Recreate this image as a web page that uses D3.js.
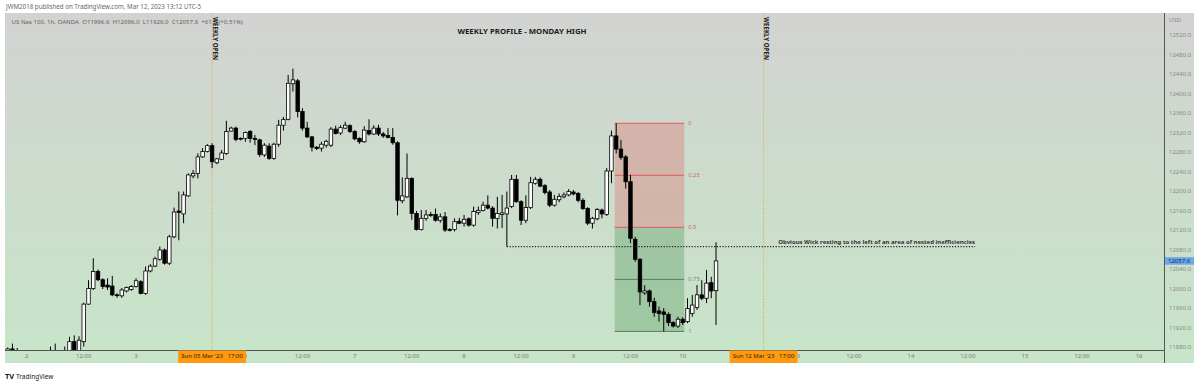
<!DOCTYPE html>
<html><head><meta charset="utf-8">
<script src="https://cdn.jsdelivr.net/npm/d3@7"></script>
<style>
body{margin:0;background:#fff;}
svg{display:block;}
text{font-family:"Noto Sans","DejaVu Sans",sans-serif;}
</style>
</head><body>
<svg id="c" width="1200" height="384"></svg>
<script>
// ---------- DATA ----------
const firstBar = -4; // bar index of the first candle (index 0 = Thu 2 Mar 00:00)
const opens  = [11872,11877,11866,11862,11856,11860,11852,11858,11863,11866,11862,11868,11865,
  11874,11892,11874,11892,11969,12001,12036,12019,12008,12006,11988,11986,11996,11999,12005,12015,
  11991,12037,12047,12061,12080,12053,12107,12160,12154,12191,12232,12237,12271,12282,12294,12259,
  12266,12278,12324,12330,12309,12309,12323,12309,12306,12275,12293,12268,12297,12336,12348,12421,
  12427,12364,12330,12312,12291,12289,12295,12295,12328,12320,12330,12335,12323,12309,12302,12325,
  12318,12330,12318,12315,12311,12300,12181,12189,12227,12155,12122,12145,12153,12153,12141,12148,
  12122,12122,12139,12135,12144,12131,12157,12161,12172,12166,12145,12153,12154,12169,12225,12179,
  12141,12167,12217,12225,12212,12199,12172,12183,12189,12193,12199,12196,12182,12165,12135,12144,
  12162,12153,12242,12314,12287,12271,12220,12102,12061,11992,11996,11974,11955,11953,11948,11931,
  11924,11938,11933,11950,11962,11988,11981,12013,11996.6];
const highs  = [11880,11888,11879,11870,11866,11868,11862,11869,11872,11882,11888,11874,11882,
  11902,11905,11903,11972,12018,12063,12040,12022,12022,12027,11991,12002,12005,12008,12022,12018,
  12046,12051,12066,12087,12083,12111,12167,12200,12200,12237,12244,12278,12289,12297,12299,12269,
  12285,12345,12333,12333,12311,12323,12326,12316,12308,12299,12299,12300,12347,12353,12439,12452,
  12431,12371,12343,12314,12293,12302,12306,12332,12335,12336,12343,12338,12326,12311,12334,12348,
  12336,12337,12322,12330,12330,12303,12229,12278,12229,12160,12162,12162,12158,12165,12155,12158,
  12125,12145,12146,12152,12147,12169,12169,12179,12192,12170,12189,12193,12200,12234,12234,12182,
  12192,12230,12230,12229,12215,12203,12193,12196,12198,12205,12203,12199,12186,12168,12148,12166,
  12165,12248,12325,12340,12306,12275,12234,12107,12063,12008,11999,11982,11964,11961,11952,11934,
  11943,11942,11981,11988,12008,12018,12039,12025,12096];
const lows   = [11860,11858,11855,11850,11845,11848,11842,11850,11855,11858,11855,11858,11860,
  11868,11866,11866,11882,11968,11998,12016,12000,11998,11985,11982,11982,11993,11996,12003,11989,
  11988,12034,12045,12058,12050,12049,12104,12100,12135,12189,12227,12227,12269,12280,12248,12256,
  12265,12275,12323,12303,12305,12302,12300,12295,12271,12271,12265,12265,12292,12325,12346,12405,
  12352,12325,12310,12282,12285,12282,12290,12291,12317,12316,12328,12320,12305,12298,12300,12315,
  12316,12314,12310,12309,12296,12151,12176,12187,12142,12120,12120,12140,12148,12138,12136,12117,
  12118,12118,12133,12128,12128,12128,12152,12159,12163,12128,12124,12125,12087,12166,12177,12131,
  12135,12164,12214,12209,12194,12168,12169,12178,12186,12190,12192,12178,12162,12131,12124,12141,
  12145,12150,12217,12278,12265,12206,12094,12056,11967,11988,11964,11943,11933,11913,11924,11921,
  11920,11926,11930,11943,11957,11977,11971,11981,11926];
const closes = [11877,11866,11872,11856,11860,11852,11858,11863,11866,11862,11868,11865,11874,
  11892,11874,11895,11969,12001,12036,12019,12005,12004,11988,11987,11998,12003,12005,12017,11991,
  12037,12047,12062,12080,12053,12107,12158,12157,12193,12234,12237,12271,12282,12294,12261,12267,
  12279,12323,12330,12307,12308,12321,12309,12307,12276,12295,12268,12297,12336,12348,12422,12429,
  12364,12330,12312,12291,12288,12297,12303,12328,12319,12331,12336,12323,12308,12302,12326,12318,
  12330,12318,12314,12311,12300,12182,12191,12227,12155,12122,12145,12152,12151,12141,12148,12121,
  12121,12138,12135,12143,12131,12159,12161,12172,12166,12145,12155,12156,12166,12225,12179,12141,
  12167,12218,12225,12211,12198,12172,12184,12190,12193,12200,12195,12182,12165,12135,12145,12163,
  12154,12242,12314,12287,12270,12220,12104,12061,11994,11996,11974,11952,11950,11948,11931,11924,
  11938,11931,11960,11967,11988,11981,12012,11996,12057.6];

const priceTicks = [11880,11920,11960,12000,12040,12080,12120,12160,12200,12240,12280,12320,12360,12400,12440,12480,12520];
const timeTickLabels = ["2","12:00","3","6","12:00","7","12:00","8","12:00","9","12:00","10","13","12:00","14","12:00","15","12:00","16"];
const timeTickBars   = [0,12,23,46,58,69,81,92,104,115,127,138,162,174,186,198,210,222,234];

const weeklyOpenBars   = [39, 155];
const weeklyOpenLabels = ["Sun 05 Mar '23   17:00", "Sun 12 Mar '23   17:00"];

const fibLevels = [0, 0.25, 0.5, 0.75, 1];
const fibHigh = 12340, fibLow = 11913, fibStartBar = 124, fibEndBar = 138;

const wickBar = 101, wickLineEndBar = 199.5;
const lastPrice = 12057.6;

// ---------- LAYOUT ----------
const svg = d3.select("#c");
const L = 5, R = 1164, T = 13, B = 350, AX = 1194, BB = 363;
const x = d3.scaleLinear().domain([0, 234]).range([26.7, 26.7 + 234 * 4.754]);
const y = d3.scaleLinear().domain([11880, 12520]).range([347.5, 35.5]);

const defs = svg.append("defs");
const grad = defs.append("linearGradient").attr("id", "bg").attr("x1", 0).attr("y1", 0).attr("x2", 0).attr("y2", 1);
grad.append("stop").attr("offset", "0%").attr("stop-color", "#d2d3d1");
grad.append("stop").attr("offset", "100%").attr("stop-color", "#c7e5c8");
defs.append("clipPath").attr("id", "plot").append("rect").attr("x", L).attr("y", T).attr("width", R - L).attr("height", B - T);

svg.append("rect").attr("x", L).attr("y", T).attr("width", AX - L).attr("height", BB - T).attr("fill", "url(#bg)");

// header texts
svg.append("text").attr("x", 6).attr("y", 7.5).attr("dominant-baseline", "middle")
  .attr("font-size", 6.2).attr("fill", "#666").text("JWM2018 published on TradingView.com, Mar 12, 2023 13:12 UTC-5");
svg.append("text").attr("x", 11.5).attr("y", 22.5).attr("dominant-baseline", "middle")
  .attr("font-size", 6.1).attr("fill", "#5e5e5e").attr("xml:space", "preserve")
  .text("US Nas 100, 1h, OANDA  O11996.6  H12096.0  L11926.0  C12057.6  +61.0 (+0.51%)");
svg.append("text").attr("x", 522).attr("y", 31.8).attr("dominant-baseline", "middle").attr("text-anchor", "middle")
  .attr("font-size", 7.8).attr("font-weight", "bold").attr("fill", "#1c1c1c").text("WEEKLY PROFILE - MONDAY HIGH");

const plot = svg.append("g").attr("clip-path", "url(#plot)");

// fib zones
const fx0 = x(fibStartBar) - 1.5, fx1 = x(fibEndBar) + 1.5;
const fibPrice = l => fibHigh - l * (fibHigh - fibLow);
plot.append("rect").attr("x", fx0).attr("width", fx1 - fx0).attr("y", y(fibPrice(0))).attr("height", y(fibPrice(0.5)) - y(fibPrice(0)))
  .attr("fill", "#e06a66").attr("fill-opacity", 0.34);
plot.append("rect").attr("x", fx0).attr("width", fx1 - fx0).attr("y", y(fibPrice(0.5))).attr("height", y(fibPrice(1)) - y(fibPrice(0.5)))
  .attr("fill", "#3f8a48").attr("fill-opacity", 0.3);
const fibColor = l => l <= 0.5 ? "#e05a5a" : "#5f7a60";
plot.selectAll("line.fib").data(fibLevels).join("line").attr("class", "fib")
  .attr("x1", fx0).attr("x2", fx1).attr("y1", d => y(fibPrice(d))).attr("y2", d => y(fibPrice(d)))
  .attr("stroke", fibColor).attr("stroke-width", 1);
svg.selectAll("text.fib").data(fibLevels).join("text").attr("class", "fib")
  .attr("x", fx1 + 4).attr("y", d => y(fibPrice(d))).attr("dominant-baseline", "middle")
  .attr("font-size", 5.8).attr("fill", d => d <= 0.5 ? "#d9625e" : "#7d8c7d").text(d => String(d));

// weekly open lines
plot.selectAll("line.wo").data(weeklyOpenBars).join("line").attr("class", "wo")
  .attr("x1", d => x(d)).attr("x2", d => x(d)).attr("y1", T).attr("y2", B)
  .attr("stroke", "#e3a43a").attr("stroke-width", 1).attr("stroke-dasharray", "1,1.6");
svg.selectAll("text.wo").data(weeklyOpenBars).join("text").attr("class", "wo")
  .attr("transform", d => `translate(${x(d) + 0.6},17) rotate(90)`)
  .attr("font-size", 6.2).attr("font-weight", "bold").attr("fill", "#222").text("WEEKLY OPEN");

// candles
const bars = opens.map((o, k) => ({ i: firstBar + k, o, h: highs[k], l: lows[k], c: closes[k] }));
plot.selectAll("line.wick").data(bars).join("line").attr("class", "wick")
  .attr("x1", d => x(d.i)).attr("x2", d => x(d.i)).attr("y1", d => y(d.h)).attr("y2", d => y(d.l))
  .attr("stroke", "#000").attr("stroke-width", 1);
plot.selectAll("rect.body").data(bars).join("rect").attr("class", "body")
  .attr("x", d => x(d.i) - 1.75).attr("width", 3.5)
  .attr("y", d => y(Math.max(d.o, d.c))).attr("height", d => Math.max(0.8, Math.abs(y(d.o) - y(d.c))))
  .attr("fill", d => d.c >= d.o ? "#fff" : "#000").attr("stroke", "#000").attr("stroke-width", 0.8);

// obvious wick dotted line + annotation
const wy = y(lows[wickBar - firstBar]);
plot.append("line").attr("x1", x(wickBar)).attr("x2", x(wickLineEndBar)).attr("y1", wy).attr("y2", wy)
  .attr("stroke", "#222").attr("stroke-width", 1.1).attr("stroke-dasharray", "1.2,1.6");
svg.append("text").attr("x", x(wickLineEndBar)).attr("y", wy - 4.5).attr("text-anchor", "end").attr("dominant-baseline", "middle")
  .attr("font-size", 6).attr("font-weight", "bold").attr("fill", "#333")
  .text("Obvious Wick resting to the left of an area of nested inefficiencies");

// axes lines
svg.append("line").attr("x1", L).attr("x2", R).attr("y1", B + 0.5).attr("y2", B + 0.5).attr("stroke", "#555").attr("stroke-width", 1);
svg.append("line").attr("x1", R + 0.5).attr("x2", R + 0.5).attr("y1", T).attr("y2", BB).attr("stroke", "#555").attr("stroke-width", 1);

// price axis
svg.append("text").attr("x", 1169).attr("y", 20).attr("dominant-baseline", "middle").attr("font-size", 6).attr("fill", "#888").text("USD");
svg.selectAll("text.py").data(priceTicks).join("text").attr("class", "py")
  .attr("x", 1169).attr("y", d => y(d)).attr("dominant-baseline", "middle")
  .attr("font-size", 6).attr("fill", "#8a8a8a").text(d => d3.format(".1f")(d));
// last price label
svg.append("rect").attr("x", R + 1).attr("y", y(lastPrice) - 3.8).attr("width", 29).attr("height", 7.6).attr("fill", "#6fa8e6");
svg.append("text").attr("x", 1168).attr("y", y(lastPrice)).attr("dominant-baseline", "middle")
  .attr("font-size", 6).attr("fill", "#0e2a5c").text(d3.format(".1f")(lastPrice));

// time axis
svg.selectAll("text.tx").data(timeTickBars).join("text").attr("class", "tx")
  .attr("x", d => x(d)).attr("y", 356.8).attr("text-anchor", "middle").attr("dominant-baseline", "middle")
  .attr("font-size", 6).attr("fill", "#7a7a7a").text((d, k) => timeTickLabels[k]);
const wog = svg.selectAll("g.wol").data(weeklyOpenBars).join("g").attr("class", "wol");
wog.append("rect").attr("x", d => x(d) - 34).attr("y", 350.5).attr("width", 68).attr("height", 12.5).attr("fill", "#ff9a10");
wog.append("text").attr("x", d => x(d)).attr("y", 356.8).attr("text-anchor", "middle").attr("dominant-baseline", "middle")
  .attr("xml:space", "preserve").attr("font-size", 6).attr("fill", "#2a1a00").text((d, k) => weeklyOpenLabels[k]);

// footer logo
svg.append("text").attr("x", 5).attr("y", 377).attr("dominant-baseline", "middle").attr("font-size", 7.5)
  .attr("font-weight", "bold").attr("fill", "#131722").text("TV");
svg.append("text").attr("x", 16).attr("y", 377).attr("dominant-baseline", "middle").attr("font-size", 6.5)
  .attr("fill", "#131722").text("TradingView");
</script>
</body></html>
